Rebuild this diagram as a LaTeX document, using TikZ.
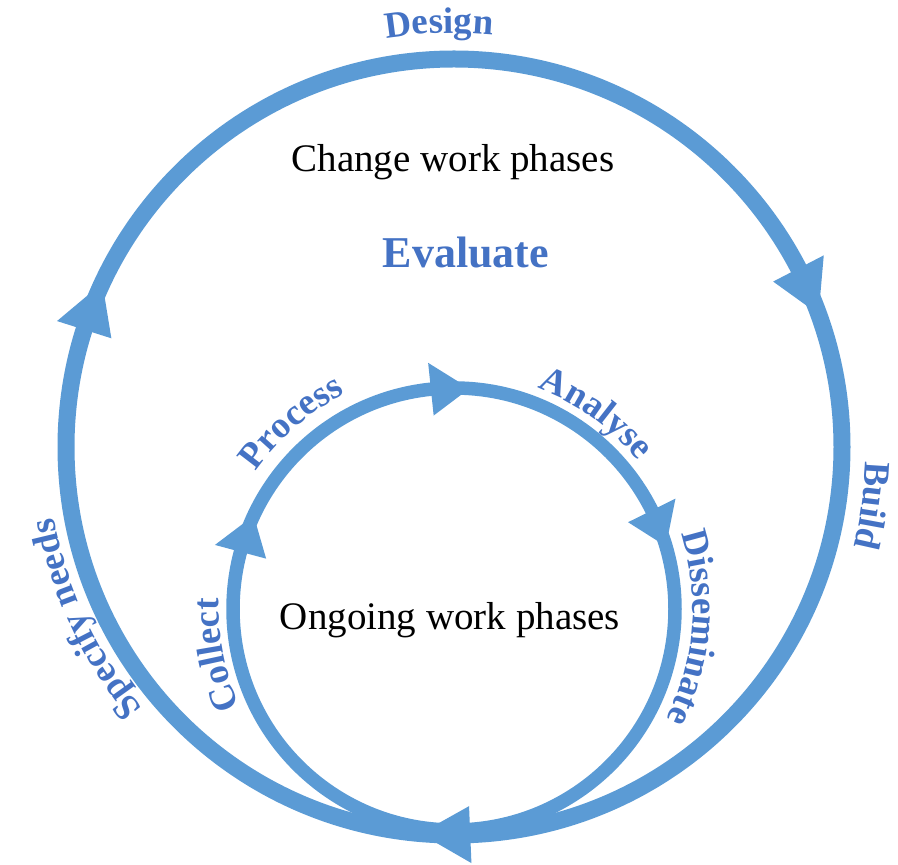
\documentclass[tikz,border=0pt]{standalone}
\usepackage{fontspec}
\setmainfont{Liberation Serif}
\usetikzlibrary{calc,decorations.text}

\definecolor{ringblue}{RGB}{91,155,213}
\definecolor{labelblue}{RGB}{68,114,196}

\newcommand{\phasefont}{\fontsize{37}{40}\selectfont\bfseries\color{labelblue}}

\tikzset{
  ring/.style={draw=ringblue, line width=#1},
  phase/.style={decorate, decoration={text along path, text align=center, text={|\phasefont|#1}}},
  title/.style={font=\fontsize{39}{46}\selectfont, anchor=base},
}

\begin{document}
\begin{tikzpicture}[x=1pt,y=1pt]
\useasboundingbox (0,0) rectangle (898,865);
\coordinate (outer) at (454,418);
\coordinate (inner) at (454,256);

\draw[ring=17pt] (outer) circle[radius=388pt];
\draw[ring=13.5pt] (inner) circle[radius=221pt];

% arrow heads, clockwise
\foreach \a in {155,20,-95}
  \fill[ringblue] ($(outer)+(\a:388)$) -- ($(outer)+(\a+7.4:416.5)$) -- ($(outer)+(\a+7.4:359.5)$) -- cycle;
\foreach \a in {86,16.5,155}
  \fill[ringblue] ($(inner)+(\a:221)$) -- ($(inner)+(\a+10:247.5)$) -- ($(inner)+(\a+10:194.5)$) -- cycle;

% phase labels along the rings
\path[phase=Design] ($(outer)+(112:414)$) arc[start angle=112, end angle=72, radius=414pt];
\path[phase=Build] ($(outer)+(18:412)$) arc[start angle=18, end angle=-34, radius=412pt];
\path[phase=Specify needs] ($(outer)+(236:406)$) arc[start angle=236, end angle=174, radius=406pt];
\path[phase=Process] ($(inner)+(161:241)$) arc[start angle=161, end angle=101, radius=241pt];
\path[phase=Analyse] ($(inner)+(84:236)$) arc[start angle=84, end angle=24, radius=236pt];
\path[phase=Collect] ($(inner)+(221:235)$) arc[start angle=221, end angle=161, radius=235pt];
\path[phase=Disseminate] ($(inner)+(41:239)$) arc[start angle=41, end angle=-50, radius=239pt];

\node at (453,693) [title] (change) {Change work phases};
\node at (466,597) [title, font=\fontsize{44}{50}\selectfont\bfseries, text=labelblue] (evaluate) {Evaluate};
\node at (450,235) [title] (ongoing) {Ongoing work phases};
\end{tikzpicture}
\end{document}
